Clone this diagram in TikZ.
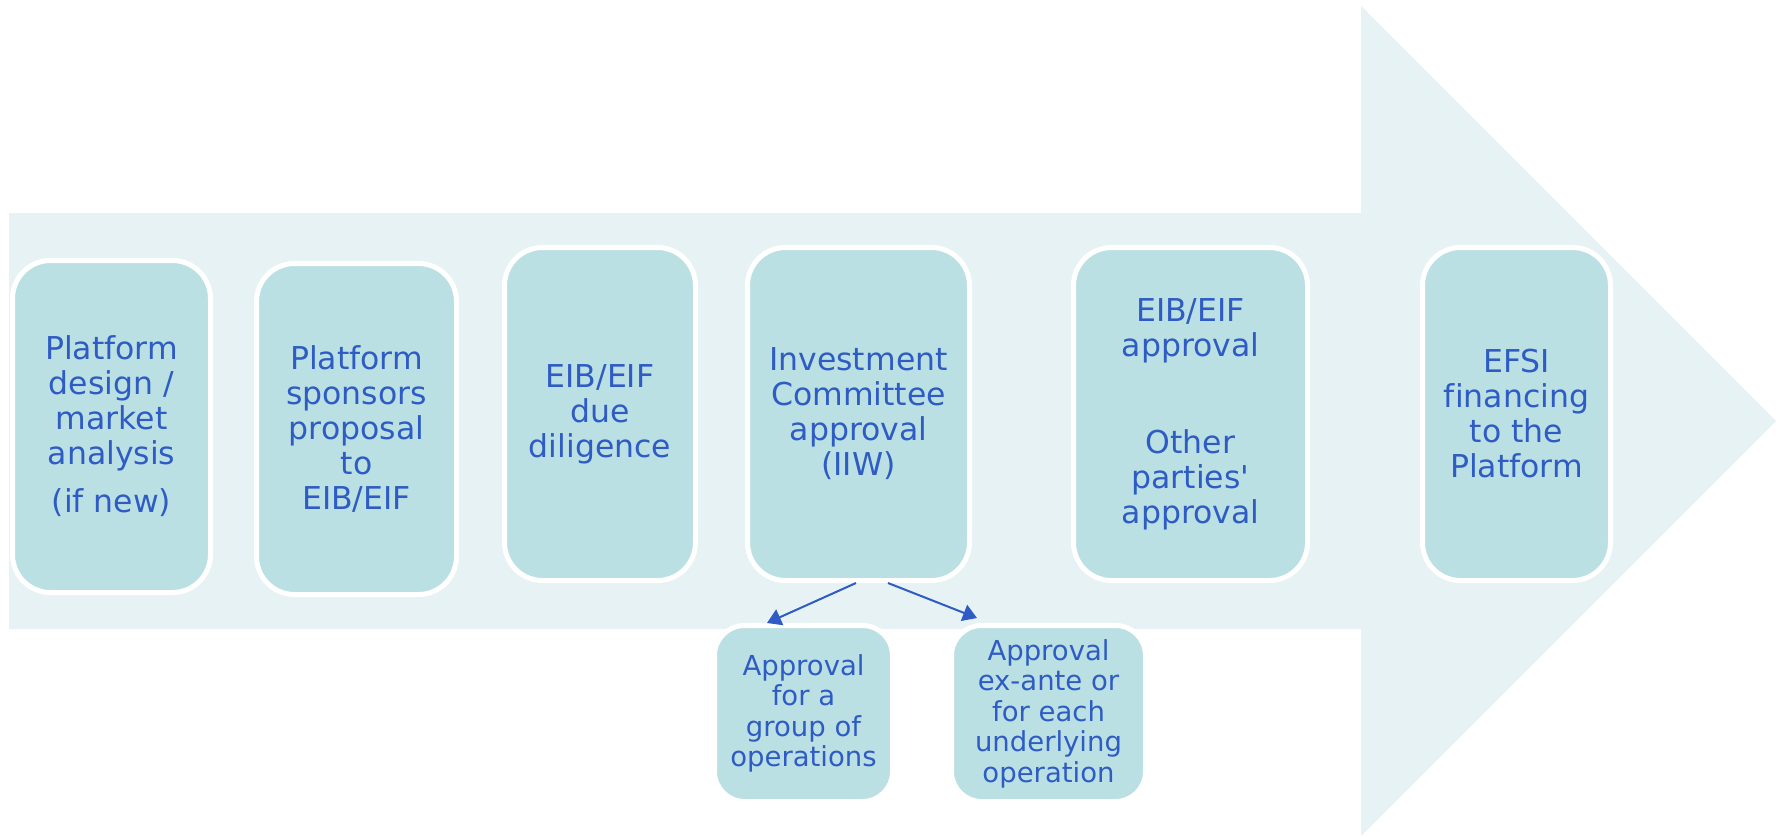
\documentclass[tikz,border=0pt]{standalone}
\usepackage{fontspec}
\setmainfont{DejaVu Sans}[Ligatures={TeXOff,NoCommon}]
\usetikzlibrary{calc,arrows.meta}
\definecolor{bgc}{RGB}{230,242,244}
\definecolor{boxc}{RGB}{187,224,227}
\definecolor{txtc}{RGB}{46,92,196}
\begin{document}
\begin{tikzpicture}[x=1pt,y=-1pt,
  stage/.style={rectangle, rounded corners=38pt, draw=white, line width=5pt, fill=boxc, text=txtc, align=center, font=\fontsize{31.5}{35}\selectfont, inner sep=0pt},
  sub/.style={stage, rounded corners=30pt, font=\fontsize{27.5}{30.5}\selectfont},
  link/.style={draw=txtc, line width=2pt, -{Triangle[length=14pt,width=17pt]}}]
\useasboundingbox (0,0) rectangle (1783,836);
\fill[bgc] (9,213) -- (1361,213) -- (1361,6) -- (1776,421) -- (1361,836) -- (1361,629) -- (9,629) -- cycle;
\node[stage, minimum width=198pt, minimum height=332pt] (b1) at (111.5,426.5) {Platform\\design /\\market\\analysis\\[13pt](if new)};
\node[stage, minimum width=200pt, minimum height=331pt] (b2) at (356.5,429) {Platform\\sponsors\\proposal\\to\\EIB/EIF};
\node[stage, minimum width=191pt, minimum height=333pt] (b3) at (600,414) {EIB/EIF\\due\\diligence};
\node[stage, minimum width=222pt, minimum height=333pt] (b4) at (858.5,414) {Investment\\Committee\\approval\\(IIW)};
\node[stage, minimum width=234pt, minimum height=333pt] (b5) at (1190.5,414) {EIB/EIF\\approval\\[62pt]Other\\parties'\\approval};
\node[stage, minimum width=188pt, minimum height=333pt] (b6) at (1516.5,414) {EFSI\\financing\\to the\\Platform};
\node[sub, minimum width=178pt, minimum height=176pt] (sa) at (803.5,713.5) {Approval\\for a\\group of\\operations};
\node[sub, minimum width=194pt, minimum height=176pt] (sb) at (1048.5,713.5) {Approval\\ex-ante or\\for each\\underlying\\operation};
\draw[link] ($(b4.south)+(-2.5,0)$) -- ($(sa.north)+(-36.5,0)$);
\draw[link] ($(b4.south)+(29.5,0)$) -- ($(sb.north)+(-71.5,-5)$);
\end{tikzpicture}
\end{document}
